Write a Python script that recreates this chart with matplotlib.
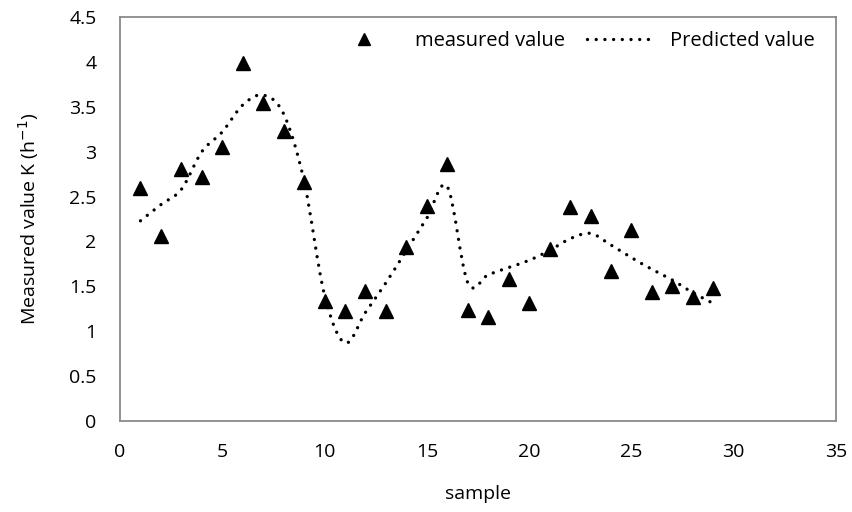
import matplotlib
matplotlib.use("Agg")
import matplotlib.pyplot as plt
from matplotlib.path import Path
from matplotlib.patches import PathPatch
from matplotlib.lines import Line2D
import numpy as np

plt.rcParams['font.family'] = ['Open Sans', 'DejaVu Sans']

samples = list(range(1, 30))
measured = [2.60, 2.06, 2.81, 2.72, 3.05, 3.99, 3.54, 3.23, 2.66, 1.34,
            1.23, 1.45, 1.23, 1.94, 2.40, 2.86, 1.24, 1.16, 1.58, 1.31,
            1.92, 2.38, 2.28, 1.67, 2.13, 1.44, 1.50, 1.38, 1.48]
predicted = [2.23, 2.41, 2.58, 3.00, 3.22, 3.52, 3.63, 3.42, 2.67, 1.40,
             0.87, 1.21, 1.54, 1.90, 2.26, 2.61, 1.54, 1.63, 1.71, 1.79,
             1.90, 2.03, 2.09, 1.96, 1.82, 1.69, 1.57, 1.43, 1.31]

xticks = [0, 5, 10, 15, 20, 25, 30, 35]
yticks = [0, 0.5, 1, 1.5, 2, 2.5, 3, 3.5, 4, 4.5]
ytick_labels = ['0', '0.5', '1', '1.5', '2', '2.5', '3', '3.5', '4', '4.5']

fig = plt.figure(figsize=(8.52, 5.12), dpi=100)
ax = fig.add_axes([120/852, 1-421/512, 716/852, 404/512])

DOTS = (0, (0.01, 2.6))
LW = 2.4

# Smoothed predicted line (Bezier path through the predicted points, like a spreadsheet "smoothed line")
P = np.column_stack([samples, predicted]).astype(float)
n = len(P)
verts = [tuple(P[0])]
codes = [Path.MOVETO]
for i in range(n - 1):
    p0 = P[i - 1] if i > 0 else P[i]
    p1 = P[i]
    p2 = P[i + 1]
    p3 = P[i + 2] if i + 2 < n else P[i + 1]
    c1 = p1 + (p2 - p0) / 6.0
    c2 = p2 - (p3 - p1) / 6.0
    verts += [tuple(c1), tuple(c2), tuple(p2)]
    codes += [Path.CURVE4] * 3
path = Path(verts, codes)
patch = PathPatch(path, facecolor='none', edgecolor='black', lw=LW,
                  linestyle=DOTS, capstyle='round', zorder=2)
ax.add_patch(patch)

ax.plot(samples, measured, linestyle='none', marker='^', markersize=9.5,
        color='black', zorder=3)

ax.set_xlim(0, 35)
ax.set_ylim(0, 4.5)
ax.set_xticks(xticks)
ax.set_yticks(yticks)
ax.set_yticklabels(ytick_labels)
ax.tick_params(length=0, labelsize=14)
ax.tick_params(axis='y', pad=17)
ax.tick_params(axis='x', pad=16)
for s in ax.spines.values():
    s.set_color('#8a8a8a')
    s.set_linewidth(1.3)

ax.set_xlabel('sample', fontsize=14, labelpad=17)
ax.set_ylabel('Measured value K (h$^{-1}$)', fontsize=14, labelpad=20)

h1 = Line2D([], [], linestyle='none', marker='^', markersize=8, color='black')
h2 = Line2D([], [], color='black', lw=LW, linestyle=DOTS,
            dash_capstyle='round')
ax.legend([h1, h2], ['measured value', 'Predicted value'], ncol=2,
          loc='upper right', bbox_to_anchor=(0.995, 1.01), frameon=False,
          fontsize=14.5, handlelength=3.2, columnspacing=1.1, handletextpad=0.9)

fig.savefig('out.png', dpi=100)
